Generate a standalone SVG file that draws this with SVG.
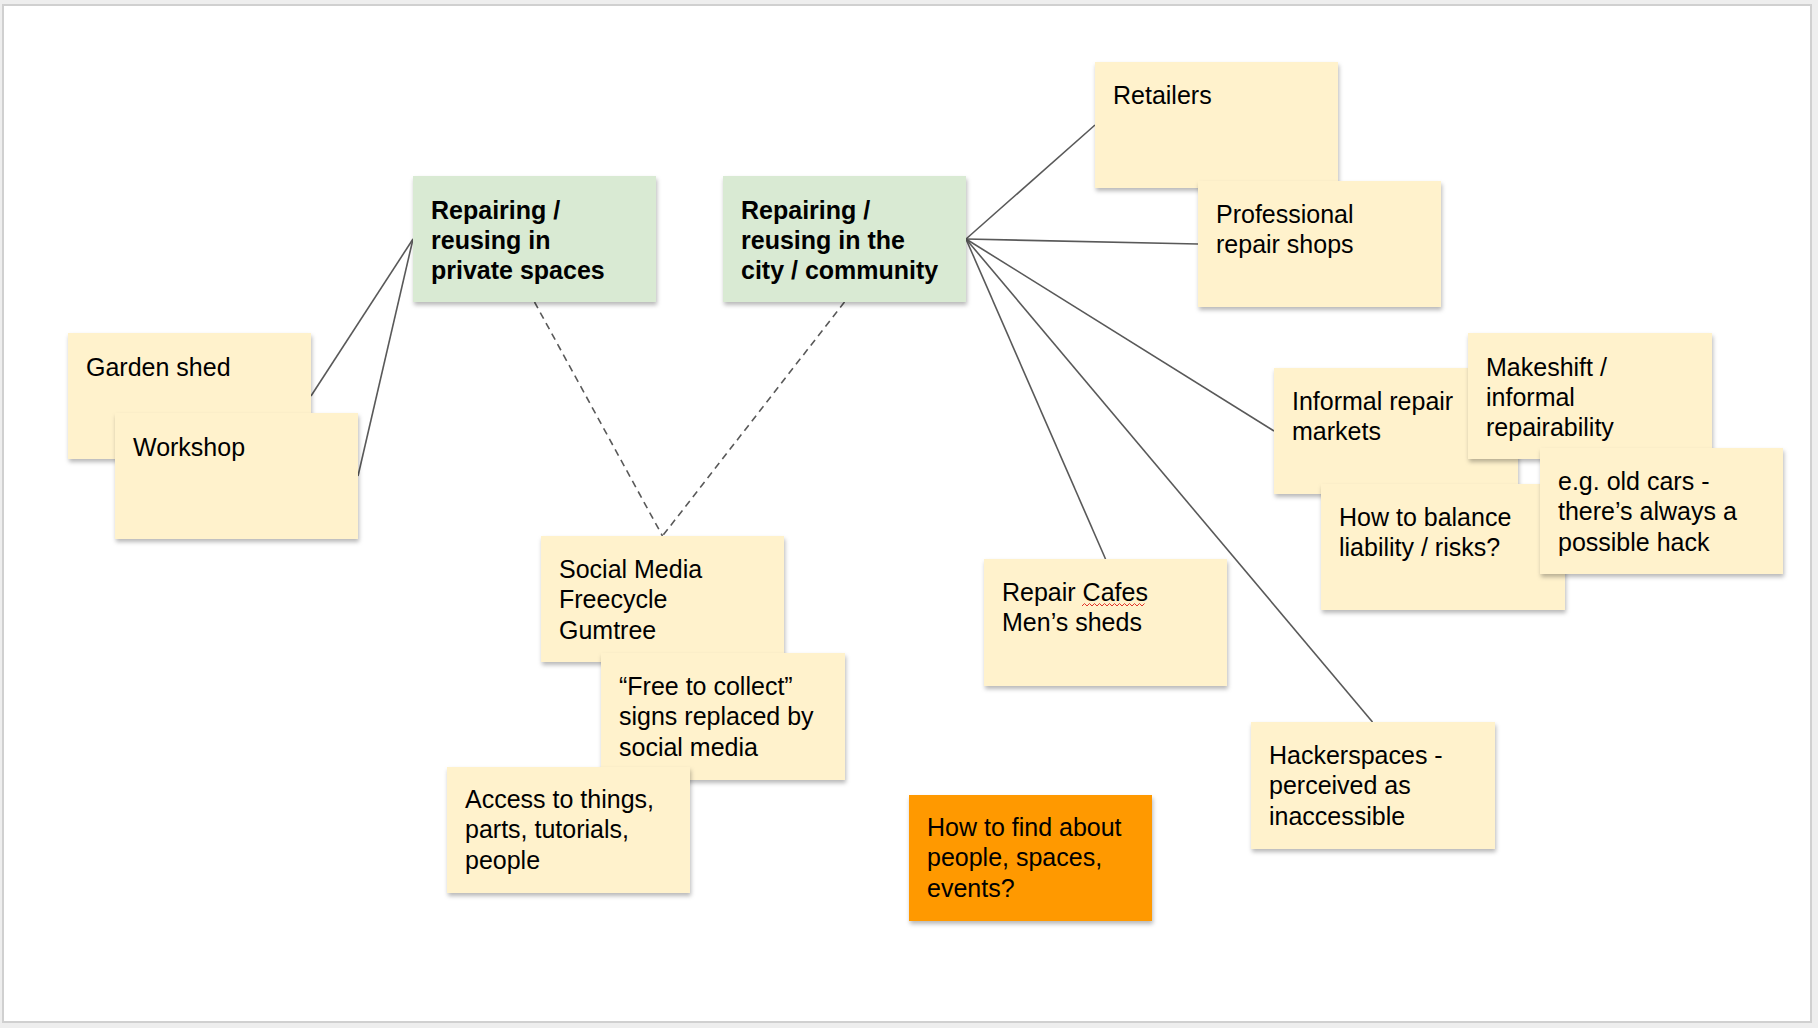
<svg xmlns="http://www.w3.org/2000/svg" width="1818" height="1028" viewBox="0 0 1818 1028">
<defs>
<filter id="sh" x="-10%" y="-10%" width="125%" height="135%">
<feDropShadow dx="1" dy="3" stdDeviation="2.2" flood-color="#000" flood-opacity="0.28"/>
</filter>
<style>
.y{fill:#fff2cc;filter:url(#sh)}
.g{fill:#d9ead3;filter:url(#sh)}
.o{fill:#ff9900;filter:url(#sh)}
text{font-family:"Liberation Sans",Arial,Helvetica,sans-serif;font-size:25px;fill:#000}
.b{font-weight:bold}
.ln{stroke:#595959;stroke-width:1.6;fill:none}
.ds{stroke:#595959;stroke-width:1.6;fill:none;stroke-dasharray:7 5}
</style>
</defs>
<rect x="0" y="0" width="1818" height="1028" fill="#eeeeee"/>
<rect x="3" y="5" width="1808" height="1017" fill="#ffffff" stroke="#d0d0d0" stroke-width="2"/>

<g id="connectors">
<line class="ln" x1="413" y1="239" x2="311" y2="396"/>
<line class="ln" x1="413" y1="239" x2="358" y2="476"/>
<line class="ds" x1="534.5" y1="302" x2="662.5" y2="536"/>
<line class="ds" x1="844.5" y1="302" x2="662.5" y2="536"/>
<line class="ln" x1="966" y1="239" x2="1095" y2="125"/>
<line class="ln" x1="966" y1="239" x2="1198" y2="244"/>
<line class="ln" x1="966" y1="239" x2="1274" y2="431"/>
<line class="ln" x1="966" y1="239" x2="1105.5" y2="559"/>
<line class="ln" x1="966" y1="239" x2="1372.5" y2="722"/>
</g>

<g id="node-private">
<rect class="g" x="413" y="176" width="243" height="126"/>
<text class="b" x="431" y="218.5">Repairing /<tspan x="431" dy="30.3">reusing in</tspan><tspan x="431" dy="30.3">private spaces</tspan></text>
</g>
<g id="node-city">
<rect class="g" x="723" y="176" width="243" height="126"/>
<text class="b" x="741" y="218.5">Repairing /<tspan x="741" dy="30.3">reusing in the</tspan><tspan x="741" dy="30.3">city / community</tspan></text>
</g>
<g id="node-garden">
<rect class="y" x="68" y="333" width="243" height="126"/>
<text x="86" y="376">Garden shed</text>
</g>
<g id="node-workshop">
<rect class="y" x="115" y="413" width="243" height="126"/>
<text x="133" y="455.5">Workshop</text>
</g>
<g id="node-retailers">
<rect class="y" x="1095" y="62" width="243" height="126"/>
<text x="1113" y="104">Retailers</text>
</g>
<g id="node-professional">
<rect class="y" x="1198" y="181" width="243" height="126"/>
<text x="1216" y="222.5">Professional<tspan x="1216" dy="30.3">repair shops</tspan></text>
</g>
<g id="node-informal">
<rect class="y" x="1274" y="368" width="244" height="126"/>
<text x="1292" y="410">Informal repair<tspan x="1292" dy="30.3">markets</tspan></text>
</g>
<g id="node-makeshift">
<rect class="y" x="1468" y="333" width="244" height="126"/>
<text x="1486" y="375.5">Makeshift /<tspan x="1486" dy="30.3">informal</tspan><tspan x="1486" dy="30.3">repairability</tspan></text>
</g>
<g id="node-balance">
<rect class="y" x="1321" y="484" width="244" height="126"/>
<text x="1339" y="526">How to balance<tspan x="1339" dy="30.3">liability / risks?</tspan></text>
</g>
<g id="node-oldcars">
<rect class="y" x="1540" y="448" width="243" height="126"/>
<text x="1558" y="490">e.g. old cars -<tspan x="1558" dy="30.3">there’s always a</tspan><tspan x="1558" dy="30.3">possible hack</tspan></text>
</g>
<g id="node-social">
<rect class="y" x="541" y="536" width="243" height="126"/>
<text x="559" y="578">Social Media<tspan x="559" dy="30.3">Freecycle</tspan><tspan x="559" dy="30.3">Gumtree</tspan></text>
</g>
<g id="node-free">
<rect class="y" x="601" y="653" width="244" height="127"/>
<text x="619" y="695">“Free to collect”<tspan x="619" dy="30.3">signs replaced by</tspan><tspan x="619" dy="30.3">social media</tspan></text>
</g>
<g id="node-access">
<rect class="y" x="447" y="767" width="243" height="126"/>
<text x="465" y="808">Access to things,<tspan x="465" dy="30.3">parts, tutorials,</tspan><tspan x="465" dy="30.3">people</tspan></text>
</g>
<g id="node-repaircafes">
<rect class="y" x="984" y="559" width="243" height="127"/>
<text x="1002" y="601">Repair Cafes<tspan x="1002" dy="30.3">Men’s sheds</tspan></text>
<path d="M1082 606 l2.5 -2.5 l2.5 2.5 l2.5 -2.5 l2.5 2.5 l2.5 -2.5 l2.5 2.5 l2.5 -2.5 l2.5 2.5 l2.5 -2.5 l2.5 2.5 l2.5 -2.5 l2.5 2.5 l2.5 -2.5 l2.5 2.5 l2.5 -2.5 l2.5 2.5 l2.5 -2.5 l2.5 2.5 l2.5 -2.5 l2.5 2.5 l2.5 -2.5 l2.5 2.5 l2.5 -2.5 l2.5 2.5 l2.5 -2.5" fill="none" stroke="#e0342b" stroke-width="1"/>
</g>
<g id="node-findabout">
<rect class="o" x="909" y="795" width="243" height="126"/>
<text x="927" y="836">How to find about<tspan x="927" dy="30.3">people, spaces,</tspan><tspan x="927" dy="30.3">events?</tspan></text>
</g>
<g id="node-hackerspaces">
<rect class="y" x="1251" y="722" width="244" height="127"/>
<text x="1269" y="764">Hackerspaces -<tspan x="1269" dy="30.3">perceived as</tspan><tspan x="1269" dy="30.3">inaccessible</tspan></text>
</g>
</svg>
